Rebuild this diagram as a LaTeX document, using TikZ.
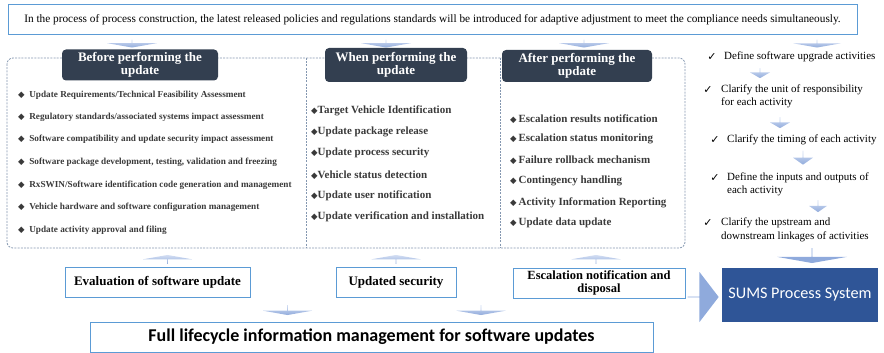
\documentclass[tikz,border=0pt]{standalone}
\usepackage{fontspec}
\setmainfont{Liberation Serif}
\newfontfamily\calibri{Carlito}
\newfontfamily\symbfont{DejaVu Sans}
\usetikzlibrary{shapes.arrows}
\definecolor{sumsblue}{HTML}{2F5597}
\definecolor{tabnavy}{HTML}{333F50}
\definecolor{frameblue}{HTML}{5B9BD5}
\definecolor{dashgray}{HTML}{8497B0}
\definecolor{arrowtop}{HTML}{D3DEF3}
\definecolor{arrowbot}{HTML}{92ACDC}
\definecolor{bigarrow}{HTML}{8FAADC}
\definecolor{itemgray}{HTML}{3A3A3A}
\newcommand{\dia}{{\symbfont\fontsize{8.5}{8}\selectfont ◆}}
\newcommand{\chk}{{\symbfont ✓}}
\tikzset{
  topbox/.style={rectangle, draw=frameblue, line width=1pt, fill=white, inner sep=0pt},
  tabbox/.style={rectangle, fill=tabnavy, rounded corners=4pt, text=white, align=center, font=\fontsize{13}{13.5}\selectfont\bfseries, inner sep=0pt},
  dashframe/.style={draw=dashgray, line width=0.8pt, dash pattern=on 2pt off 1.2pt},
  itemone/.style={anchor=west, text=itemgray, inner sep=0pt, font=\fontsize{9.2}{10}\selectfont\bfseries},
  itemtwo/.style={anchor=west, text=itemgray, inner sep=0pt, font=\fontsize{11}{12}\selectfont\bfseries},
  chkmark/.style={inner sep=0pt, font=\fontsize{11}{11}\selectfont},
  chktext/.style={anchor=west, inner sep=0pt, align=left, font=\fontsize{11}{13.5}\selectfont},
  resultbox/.style={rectangle, draw=frameblue, line width=1pt, fill=white, align=center, inner sep=0pt, font=\fontsize{13}{13.5}\selectfont\bfseries},
  downarrow/.style={single arrow, shape border rotate=270, inner sep=0pt, top color=arrowtop, bottom color=arrowbot, draw=none},
  uparrow/.style={single arrow, shape border rotate=90, inner sep=0pt, top color=arrowtop, bottom color=arrowbot, draw=none},
}
\begin{document}
\begin{tikzpicture}[x=1pt, y=-1pt]
\useasboundingbox (0,0) rectangle (884,353);
% policy banner
\node[topbox, minimum width=849pt, minimum height=30pt, font=\fontsize{11.3}{12}\selectfont] (policy) at (432.5,20) {In the process of process construction, the latest released policies and regulations standards will be introduced for adaptive adjustment to meet the compliance needs simultaneously.};
\node[downarrow, minimum width=50pt, minimum height=8pt, single arrow head extend=12pt, single arrow tip angle=160] (dbefore) at (132,43.5) {};
\node[downarrow, minimum width=50pt, minimum height=8pt, single arrow head extend=12pt, single arrow tip angle=160] (dwhen) at (386,43.5) {};
\node[downarrow, minimum width=50pt, minimum height=8pt, single arrow head extend=12pt, single arrow tip angle=160] (dafter) at (584,43.5) {};
\node[downarrow, minimum width=48pt, minimum height=8pt, single arrow head extend=12pt, single arrow tip angle=160] (dsteps) at (817,43.5) {};

% dashed stage frame
\draw[dashframe, rounded corners=6pt] (7,58) rectangle (685,248);
\draw[dashframe] (306,58) -- (306,248);
\draw[dashframe] (500,58) -- (500,248);

\node[tabbox, minimum width=156pt, minimum height=31pt] (tabbefore) at (140,65) {Before performing the\\update};
\node[tabbox, minimum width=142pt, minimum height=34pt] (tabwhen) at (396,65) {When performing the\\update};
\node[tabbox, minimum width=150pt, minimum height=32pt] (tabafter) at (577,66) {After performing the\\update};

% before the update
\node[itemone] (b1) at (18,95) {\dia\ \ Update Requirements/Technical Feasibility Assessment};
\node[itemone] (b2) at (18,117) {\dia\ \ Regulatory standards/associated systems impact assessment};
\node[itemone] (b3) at (18,139) {\dia\ \ Software compatibility and update security impact assessment};
\node[itemone] (b4) at (18,162) {\dia\ \ Software package development, testing, validation and freezing};
\node[itemone] (b5) at (18,185) {\dia\ \ RxSWIN/Software identification code generation and management};
\node[itemone] (b6) at (18,207) {\dia\ \ Vehicle hardware and software configuration management};
\node[itemone] (b7) at (18,230) {\dia\ \ Update activity approval and filing};

% during the update
\node[itemtwo] (w1) at (311,111) {\dia Target Vehicle Identification};
\node[itemtwo] (w2) at (311,132) {\dia Update package release};
\node[itemtwo] (w3) at (311,153) {\dia Update process security};
\node[itemtwo] (w4) at (311,175) {\dia Vehicle status detection};
\node[itemtwo] (w5) at (311,196) {\dia Update user notification};
\node[itemtwo] (w6) at (311,217) {\dia Update verification and installation};

% after the update
\node[itemtwo] (a1) at (510,119) {\dia\,Escalation results notification};
\node[itemtwo] (a2) at (510,139) {\dia\,Escalation status monitoring};
\node[itemtwo] (a3) at (510,160) {\dia\,Failure rollback mechanism};
\node[itemtwo] (a4) at (510,181) {\dia\,Contingency handling};
\node[itemtwo] (a5) at (510,203) {\dia\,Activity Information Reporting};
\node[itemtwo] (a6) at (510,223) {\dia\,Update data update};

% definition steps
\node[chkmark] (k1) at (712,57) {\chk};
\node[chktext] (s1) at (724,57) {Define software upgrade activities};
\node[downarrow, minimum width=20pt, minimum height=10pt, single arrow head extend=4pt, single arrow tip angle=120] (ds1) at (760,73) {};
\node[chkmark] (k2) at (708,90) {\chk};
\node[chktext] (s2) at (721,96.5) {Clarify the unit of responsibility\\for each activity};
\node[downarrow, minimum width=20pt, minimum height=11pt, single arrow head extend=4pt, single arrow tip angle=120] (ds2) at (780,122.5) {};
\node[chkmark] (k3) at (715,140) {\chk};
\node[chktext] (s3) at (727,140) {Clarify the timing of each activity};
\node[downarrow, minimum width=20pt, minimum height=14pt, single arrow head extend=4pt, single arrow tip angle=110] (ds3) at (803,157.5) {};
\node[chkmark] (k4) at (715,178) {\chk};
\node[chktext] (s4) at (727,184.5) {Define the inputs and outputs of\\each activity};
\node[downarrow, minimum width=18pt, minimum height=12pt, single arrow head extend=4pt, single arrow tip angle=110] (ds4) at (818,206) {};
\node[chkmark] (k5) at (708,223.5) {\chk};
\node[chktext] (s5) at (721,230) {Clarify the upstream and\\downstream linkages of activities};
\node[single arrow, shape border rotate=270, inner sep=0pt, fill=bigarrow, minimum width=70pt, minimum height=15pt, single arrow head extend=16pt, single arrow tip angle=160] (ds5) at (812,255.5) {};

% SUMS
\node[rectangle, fill=sumsblue, minimum width=156pt, minimum height=54pt, text=white, font=\calibri\fontsize{16.2}{17}\selectfont] (sums) at (800,295) {SUMS Process System};
\node[single arrow, inner sep=0pt, minimum width=50pt, minimum height=31pt, single arrow head extend=11pt, single arrow tip angle=105, fill=bigarrow] (tosums) at (703,297) {};

% results
\node[uparrow, minimum width=49pt, minimum height=9pt, single arrow head extend=11pt, single arrow tip angle=160] (ueval) at (167.5,259.5) {};
\node[uparrow, minimum width=49pt, minimum height=9pt, single arrow head extend=11pt, single arrow tip angle=160] (usec) at (396,259.5) {};
\node[uparrow, minimum width=49pt, minimum height=9pt, single arrow head extend=11pt, single arrow tip angle=160] (uesc) at (596,259.5) {};
\node[resultbox, minimum width=185pt, minimum height=30pt] (evalbox) at (157.5,282) {Evaluation of software update};
\node[resultbox, minimum width=120pt, minimum height=30pt] (secbox) at (396,282) {Updated security};
\node[resultbox, minimum width=172pt, minimum height=30pt, font=\fontsize{12.5}{13}\selectfont\bfseries] (escbox) at (599,283) {Escalation notification and\\disposal};
\node[downarrow, minimum width=49pt, minimum height=10pt, single arrow head extend=11pt, single arrow tip angle=160] (dfull1) at (287.5,310) {};
\node[downarrow, minimum width=49pt, minimum height=10pt, single arrow head extend=11pt, single arrow tip angle=160] (dfull2) at (481,310) {};
\node[resultbox, minimum width=563pt, minimum height=30pt, font=\calibri\fontsize{18}{19}\selectfont\bfseries] (fullbox) at (371.5,337) {Full lifecycle information management for software updates};
\end{tikzpicture}
\end{document}
